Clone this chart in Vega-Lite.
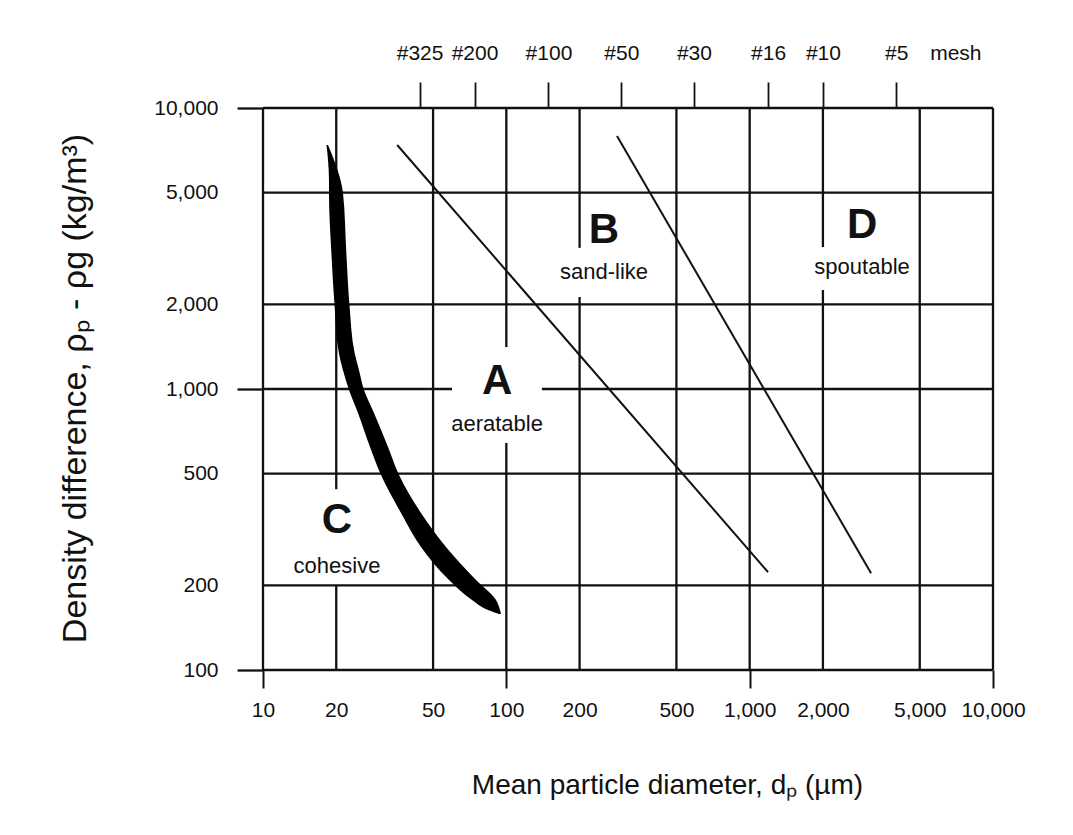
{
  "$schema": "https://vega.github.io/schema/vega-lite/v6.json",
  "width": 730,
  "height": 562,
  "autosize": {"type": "none"},
  "padding": {"left": 263, "top": 108, "right": 80, "bottom": 165},
  "background": "white",
  "config": {
    "font": "Liberation Sans",
    "view": {"stroke": null},
    "text": {"font": "Liberation Sans", "color": "#111"}
  },
  "datasets": {
    "vgrid": [
      {"d": 10, "top": 10000, "bottom": 100},
      {"d": 20, "top": 10000, "bottom": 440},
      {"d": 20, "top": 200, "bottom": 100},
      {"d": 50, "top": 10000, "bottom": 100},
      {"d": 100, "top": 10000, "bottom": 1410},
      {"d": 100, "top": 643, "bottom": 100},
      {"d": 200, "top": 10000, "bottom": 3180},
      {"d": 200, "top": 2125, "bottom": 100},
      {"d": 500, "top": 10000, "bottom": 100},
      {"d": 1000, "top": 10000, "bottom": 100},
      {"d": 2000, "top": 10000, "bottom": 3200},
      {"d": 2000, "top": 2250, "bottom": 100},
      {"d": 5000, "top": 10000, "bottom": 100},
      {"d": 10000, "top": 10000, "bottom": 100}
    ],
    "hgrid": [
      {"rho": 100, "left": 10, "right": 10000},
      {"rho": 200, "left": 10, "right": 10000},
      {"rho": 500, "left": 10, "right": 10000},
      {"rho": 1000, "left": 10, "right": 59.8},
      {"rho": 1000, "left": 140, "right": 10000},
      {"rho": 2000, "left": 10, "right": 10000},
      {"rho": 5000, "left": 10, "right": 10000},
      {"rho": 10000, "left": 10, "right": 10000}
    ],
    "bounds": [
      {"boundary": "A/B", "d": 35.6, "rho": 7386},
      {"boundary": "A/B", "d": 1190, "rho": 223},
      {"boundary": "B/D", "d": 285, "rho": 7950},
      {"boundary": "B/D", "d": 3155, "rho": 221}
    ],
    "band": [
      {"rho": 7384, "dl": 18.24, "dr": 18.5},
      {"rho": 6530, "dl": 18.5, "dr": 19.58},
      {"rho": 5543, "dl": 18.67, "dr": 20.82},
      {"rho": 4984, "dl": 18.67, "dr": 21.32},
      {"rho": 3048, "dl": 19.1, "dr": 22.0},
      {"rho": 1958, "dl": 19.7, "dr": 22.7},
      {"rho": 1343, "dl": 20.5, "dr": 23.8},
      {"rho": 1168.5, "dl": 21.3, "dr": 24.8},
      {"rho": 992, "dl": 22.57, "dr": 26.01},
      {"rho": 821.5, "dl": 24.57, "dr": 28.59},
      {"rho": 621.7, "dl": 27.53, "dr": 32.64},
      {"rho": 494.3, "dl": 30.55, "dr": 36.23},
      {"rho": 362, "dl": 36.92, "dr": 44.6},
      {"rho": 274, "dl": 44.6, "dr": 56.5},
      {"rho": 209, "dl": 58.13, "dr": 75.07},
      {"rho": 177.5, "dl": 72.27, "dr": 90.7},
      {"rho": 163.5, "dl": 84.1, "dr": 94.19},
      {"rho": 158.2, "dl": 93.3, "dr": 95.08}
    ],
    "zones": [
      {"group": "A", "d": 91.6, "rho": 1068},
      {"group": "B", "d": 252, "rho": 3680},
      {"group": "C", "d": 20.15, "rho": 342},
      {"group": "D", "d": 2897, "rho": 3834}
    ],
    "names": [
      {"name": "aeratable", "d": 91.6, "rho": 751},
      {"name": "sand-like", "d": 252, "rho": 2609},
      {"name": "cohesive", "d": 20.15, "rho": 234.6},
      {"name": "spoutable", "d": 2897, "rho": 2718}
    ]
  },
  "layer": [
    {
      "data": {"name": "vgrid"},
      "mark": {"type": "rule", "color": "#111", "strokeWidth": 2.3},
      "encoding": {
        "x": {
          "field": "d", "type": "quantitative",
          "scale": {"type": "log", "domain": [10, 10000], "nice": false},
          "axis": {
            "orient": "bottom",
            "values": [10, 20, 50, 100, 200, 500, 1000, 2000, 5000, 10000],
            "format": ",",
            "domain": false, "grid": false,
            "tickSize": 18, "tickWidth": 2, "tickColor": "#111",
            "tickOpacity": {"condition": {"test": "datum.value == 10 || datum.value == 100 || datum.value == 1000 || datum.value == 10000", "value": 1}, "value": 0},
            "labelFontSize": 21, "labelColor": "#111", "labelPadding": 11,
            "labelFlush": false, "labelOverlap": false,
            "title": "Mean particle diameter, dₚ  (µm)",
            "titleFontSize": 28, "titleFontWeight": "normal", "titleColor": "#111",
            "titleX": 404, "titleY": 115, "titleBaseline": "middle", "titleAlign": "center"
          }
        },
        "y": {"field": "top", "type": "quantitative", "scale": {"type": "log", "domain": [100, 10000], "nice": false}, "axis": null},
        "y2": {"field": "bottom"}
      }
    },
    {
      "data": {"name": "hgrid"},
      "mark": {"type": "rule", "color": "#111", "strokeWidth": 2.3},
      "encoding": {
        "y": {
          "field": "rho", "type": "quantitative",
          "scale": {"type": "log", "domain": [100, 10000], "nice": false},
          "axis": {
            "orient": "left",
            "values": [100, 200, 500, 1000, 2000, 5000, 10000],
            "format": ",",
            "domain": false, "grid": false,
            "tickSize": 26, "tickWidth": 2.3, "tickColor": "#111",
            "tickOpacity": {"condition": {"test": "datum.value == 100 || datum.value == 1000 || datum.value == 10000", "value": 1}, "value": 0},
            "labelFontSize": 21, "labelColor": "#111", "labelPadding": 19,
            "labelFlush": false, "labelOverlap": false,
            "title": "Density difference, ρₚ - ρg  (kg/m³)",
            "titleFontSize": 34, "titleFontWeight": "normal", "titleColor": "#111",
            "titleX": -188, "titleY": 280, "titleAngle": 270, "titleBaseline": "middle", "titleAlign": "center"
          }
        },
        "x": {"field": "left", "type": "quantitative", "scale": {"type": "log", "domain": [10, 10000], "nice": false}, "axis": null},
        "x2": {"field": "right"}
      }
    },
    {
      "data": {"name": "bounds"},
      "mark": {"type": "line", "color": "#111", "strokeWidth": 2},
      "encoding": {
        "x": {
          "field": "d", "type": "quantitative",
          "scale": {"type": "log", "domain": [10, 10000], "nice": false},
          "axis": {
            "orient": "top",
            "values": [44, 74, 149, 297, 590, 1190, 2000, 4000, 7000],
            "labelExpr": "datum.value == 44 ? '#325' : datum.value == 74 ? '#200' : datum.value == 149 ? '#100' : datum.value == 297 ? '#50' : datum.value == 590 ? '#30' : datum.value == 1190 ? '#16' : datum.value == 2000 ? '#10' : datum.value == 4000 ? '#5' : 'mesh'",
            "domain": false, "grid": false,
            "tickSize": 26, "tickWidth": 1.8, "tickColor": "#111",
            "tickOpacity": {"condition": {"test": "datum.value == 7000", "value": 0}, "value": 1},
            "labelFontSize": 21, "labelColor": "#111", "labelPadding": 19,
            "labelFlush": false, "labelOverlap": false,
            "title": null
          }
        },
        "y": {"field": "rho", "type": "quantitative", "scale": {"type": "log", "domain": [100, 10000], "nice": false}, "axis": null},
        "detail": {"field": "boundary"}
      }
    },
    {
      "data": {"name": "band"},
      "mark": {"type": "area", "orient": "horizontal", "color": "#000", "interpolate": "monotone"},
      "encoding": {
        "y": {"field": "rho", "type": "quantitative", "scale": {"type": "log", "domain": [100, 10000], "nice": false}, "axis": null},
        "x": {"field": "dl", "type": "quantitative", "scale": {"type": "log", "domain": [10, 10000], "nice": false}, "axis": null},
        "x2": {"field": "dr"}
      }
    },
    {
      "data": {"name": "zones"},
      "mark": {"type": "text", "fontSize": 42, "fontWeight": "bold", "baseline": "middle", "align": "center"},
      "encoding": {
        "x": {"field": "d", "type": "quantitative", "scale": {"type": "log", "domain": [10, 10000], "nice": false}, "axis": null},
        "y": {"field": "rho", "type": "quantitative", "scale": {"type": "log", "domain": [100, 10000], "nice": false}, "axis": null},
        "text": {"field": "group"}
      }
    },
    {
      "data": {"name": "names"},
      "mark": {"type": "text", "fontSize": 22, "baseline": "middle", "align": "center"},
      "encoding": {
        "x": {"field": "d", "type": "quantitative", "scale": {"type": "log", "domain": [10, 10000], "nice": false}, "axis": null},
        "y": {"field": "rho", "type": "quantitative", "scale": {"type": "log", "domain": [100, 10000], "nice": false}, "axis": null},
        "text": {"field": "name"}
      }
    }
  ],
  "resolve": {"axis": {"x": "independent", "y": "independent"}}
}
